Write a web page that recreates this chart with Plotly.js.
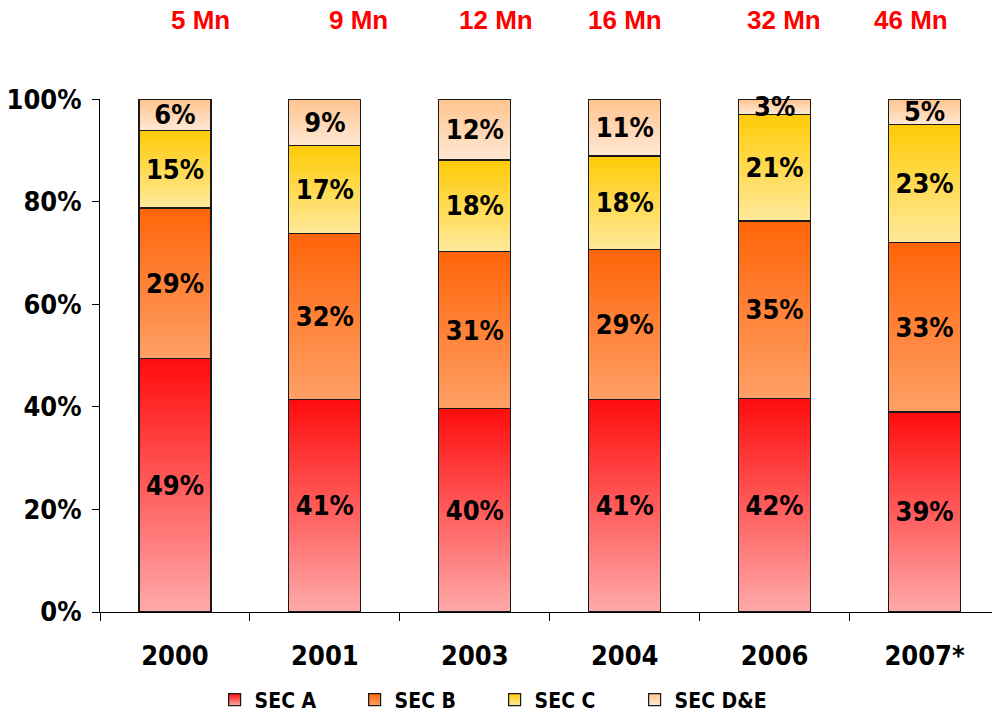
<!DOCTYPE html>
<html>
<head>
<meta charset="utf-8">
<script src="https://cdn.plot.ly/plotly-3.0.1.min.js"></script>
<style>html,body{margin:0;padding:0;background:#fff;}#chart{width:992px;height:712px;}</style>
</head>
<body>
<div id="chart"></div>
<script>
// ---- data ----
const categories = ['2000', '2001', '2003', '2004', '2006', '2007*'];
const seriesNames = ['SEC A', 'SEC B', 'SEC C', 'SEC D&E'];
const secA  = [49, 41, 40, 41, 42, 39];
const secB  = [29, 32, 31, 29, 35, 33];
const secC  = [15, 17, 18, 18, 21, 23];
const secDE = [6, 9, 12, 11, 3, 5];
const totalLabels = ['5 Mn', '9 Mn', '12 Mn', '16 Mn', '32 Mn', '46 Mn'];
const yTicks = [0, 20, 40, 60, 80, 100];

// ---- styling ----
const gradients = [
  ['#FF0C0C', '#FFAAAA'],
  ['#FF6408', '#FFA066'],
  ['#FFCB05', '#FFE99C'],
  ['#FFC48E', '#FFE8D4']
];
const totalShift = [26, 34, 21, 0, 9, -14];
const narrow = '"Liberation Sans Narrow", "DejaVu Sans Condensed", "Arial Narrow", sans-serif';

const seriesValues = [secA, secB, secC, secDE];
// each column is shown as a 100% stack (shares of the column total)
const columnTotals = categories.map((c, j) => seriesValues.reduce((s, arr) => s + arr[j], 0));

const traces = seriesValues.map((vals, i) => ({
  type: 'bar',
  name: seriesNames[i],
  x: categories,
  y: vals.map((v, j) => v / columnTotals[j] * 100),
  text: vals.map(v => v + '%'),
  textposition: 'inside',
  insidetextanchor: 'middle',
  textangle: 0,
  constraintext: 'none',
  cliponaxis: false,
  textfont: {family: narrow, size: 27, color: '#000', weight: 'bold'},
  insidetextfont: {family: narrow, size: 27, color: '#000', weight: 'bold'},
  marker: {color: gradients[i][0], line: {color: '#1a1a1a', width: 1.2}},
  hoverinfo: 'skip'
}));

const annotations = totalLabels.map((t, i) => ({
  x: i, xref: 'x', y: 1.154, yref: 'paper',
  text: t, showarrow: false, xshift: totalShift[i],
  xanchor: 'center', yanchor: 'middle',
  font: {family: 'Liberation Sans, Arial, sans-serif', size: 26, color: '#FF0000', weight: 'bold'}
}));

const layout = {
  width: 992, height: 712,
  margin: {l: 100, r: 0, t: 99, b: 100},
  paper_bgcolor: '#fff', plot_bgcolor: '#fff',
  barmode: 'stack', bargap: 0.52,
  showlegend: true,
  legend: {
    orientation: 'h', x: 0.1285, xanchor: 'left',
    yref: 'container', y: 0.017, yanchor: 'middle',
    traceorder: 'normal', entrywidth: 95, entrywidthmode: 'pixels', itemwidth: 30,
    font: {family: narrow, size: 21, color: '#000', weight: 'bold'}
  },
  xaxis: {
    type: 'category', range: [-0.5, 5.45],
    showline: true, linecolor: '#000', linewidth: 1,
    ticks: 'outside', tickson: 'boundaries', ticklen: 8, tickcolor: '#000', tickwidth: 1,
    showgrid: false, zeroline: false,
    ticklabelstandoff: 20,
    tickfont: {family: narrow, size: 27, color: '#000', weight: 'bold'}
  },
  yaxis: {
    range: [0, 100.02], tickmode: 'array', tickvals: yTicks, ticktext: yTicks.map(v => v + '%'),
    showline: true, linecolor: '#000', linewidth: 1,
    ticks: 'outside', ticklen: 7, tickcolor: '#000', tickwidth: 1,
    showgrid: false, zeroline: false,
    ticklabelstandoff: 5,
    tickfont: {family: narrow, size: 27, color: '#000', weight: 'bold'}
  },
  annotations: annotations
};

function applyGradients(gd) {
  const svg = gd.querySelector('svg.main-svg');
  let defs = svg.querySelector('defs');
  if (!defs) { defs = document.createElementNS('http://www.w3.org/2000/svg', 'defs'); svg.insertBefore(defs, svg.firstChild); }
  gradients.forEach((g, i) => {
    const lg = document.createElementNS('http://www.w3.org/2000/svg', 'linearGradient');
    lg.setAttribute('id', 'barGrad' + i);
    lg.setAttribute('x1', '0'); lg.setAttribute('y1', '0');
    lg.setAttribute('x2', '0'); lg.setAttribute('y2', '1');
    [[0, g[0]], [1, g[1]]].forEach(([o, c]) => {
      const st = document.createElementNS('http://www.w3.org/2000/svg', 'stop');
      st.setAttribute('offset', o); st.setAttribute('stop-color', c);
      lg.appendChild(st);
    });
    defs.appendChild(lg);
  });
  gd.querySelectorAll('.barlayer .trace').forEach((tr, i) => {
    tr.querySelectorAll('.point path').forEach(p => { p.style.fill = 'url(#barGrad' + i + ')'; });
  });
  gd.querySelectorAll('.legend .traces').forEach(tr => {
    const name = tr.querySelector('.legendtext').textContent;
    const i = seriesNames.indexOf(name);
    if (i >= 0) tr.querySelectorAll('.legendpoints path').forEach(p => {
      p.style.fill = 'url(#barGrad' + i + ')'; p.style.stroke = '#1a1a1a';
    });
  });
}

Plotly.newPlot('chart', traces, layout, {staticPlot: true}).then(applyGradients);
</script>
</body>
</html>
